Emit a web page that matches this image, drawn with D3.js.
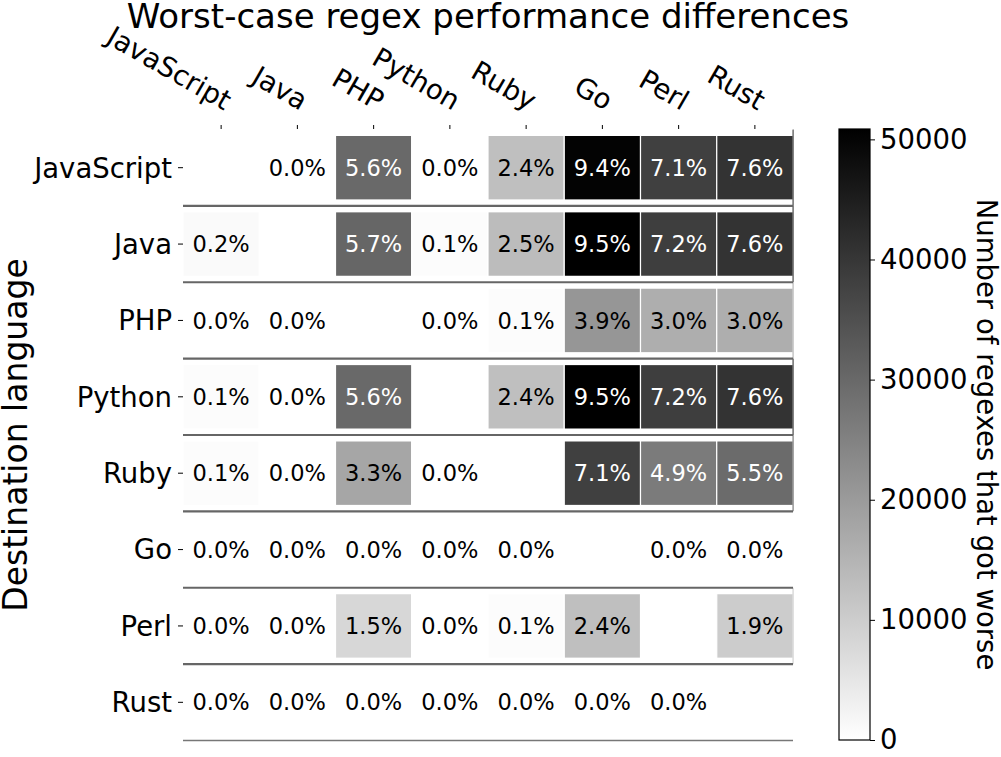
<!DOCTYPE html>
<meta charset="utf-8">
<style>
body {
  margin: 0;
  background: #fff;
}
svg text {
  font-family: "DejaVu Sans", sans-serif;
  fill: #000;
}
</style>
<body>
<svg width="1001" height="757"></svg>
<script src="https://cdn.jsdelivr.net/npm/d3@7"></script>
<script>

// source languages (columns) and destination languages (rows)
var sources = ["JavaScript","Java","PHP","Python","Ruby","Go","Perl","Rust"];
var dests   = ["JavaScript","Java","PHP","Python","Ruby","Go","Perl","Rust"];

// percent of regexes that got worse, one array per destination row (null = same language)
var pctJavaScript = [null, 0.0, 5.6, 0.0, 2.4, 9.4, 7.1, 7.6];
var pctJava       = [0.2, null, 5.7, 0.1, 2.5, 9.5, 7.2, 7.6];
var pctPHP        = [0.0, 0.0, null, 0.0, 0.1, 3.9, 3.0, 3.0];
var pctPython     = [0.1, 0.0, 5.6, null, 2.4, 9.5, 7.2, 7.6];
var pctRuby       = [0.1, 0.0, 3.3, 0.0, null, 7.1, 4.9, 5.5];
var pctGo         = [0.0, 0.0, 0.0, 0.0, 0.0, null, 0.0, 0.0];
var pctPerl       = [0.0, 0.0, 1.5, 0.0, 0.1, 2.4, null, 1.9];
var pctRust       = [0.0, 0.0, 0.0, 0.0, 0.0, 0.0, 0.0, null];

var totalRegexes = 535400;   // count corresponding to 100%
var colorbarTicks = [0, 10000, 20000, 30000, 40000, 50000];

var rows = [pctJavaScript, pctJava, pctPHP, pctPython, pctRuby, pctGo, pctPerl, pctRust];

var cells = [];
rows.forEach(function(r, i){
  r.forEach(function(p, j){
    cells.push({dest: dests[i], src: sources[j], pct: p,
                count: p == null ? null : p / 100 * totalRegexes});
  });
});
var maxCount = d3.max(cells, d => d.count);

var svg = d3.select("svg");

var x = d3.scaleBand().domain(sources).range([183, 793]);
var y = d3.scaleBand().domain(dests).range([129.5, 740.5]);
var color = d3.scaleLinear().domain([0, maxCount]).range(["#ffffff", "#000000"]);

// cells
var filled = cells.filter(d => d.pct != null);
svg.append("g").selectAll("rect")
  .data(filled).enter().append("rect")
  .attr("x", d => x(d.src))
  .attr("y", d => y(d.dest))
  .attr("width", x.bandwidth())
  .attr("height", y.bandwidth())
  .attr("fill", d => color(d.count))
  .attr("stroke", "#fff")
  .attr("stroke-width", 1.2);

// thin edge on the right of the last column
svg.append("g").selectAll("rect")
  .data(filled.filter(d => d.src === "Rust")).enter().append("rect")
  .attr("x", x.range()[1] - 0.6)
  .attr("y", d => y(d.dest))
  .attr("width", 1.2)
  .attr("height", y.bandwidth())
  .attr("fill", d => color(d.count));

// white separators between rows, with a grey line in the middle
var bounds = dests.map(d => y(d));
bounds.push(y.range()[1]);
svg.append("g").selectAll("rect")
  .data(bounds).enter().append("rect")
  .attr("x", x.range()[0])
  .attr("y", d => d - 6.5)
  .attr("width", x.range()[1] - x.range()[0] - 0.6)
  .attr("height", 13)
  .attr("fill", "#fff");

svg.append("g").selectAll("line")
  .data(bounds.slice(1)).enter().append("line")
  .attr("x1", x.range()[0])
  .attr("x2", x.range()[1])
  .attr("y1", d => d)
  .attr("y2", d => d)
  .attr("stroke", (d, i) => i === bounds.length - 2 ? "#777" : "#666")
  .attr("stroke-width", (d, i) => i === bounds.length - 2 ? 1.4 : 2.2);

// cell labels
svg.append("g").selectAll("text")
  .data(filled).enter().append("text")
  .attr("x", d => x(d.src) + x.bandwidth() / 2)
  .attr("y", d => y(d.dest) + y.bandwidth() / 2)
  .attr("dy", "0.36em")
  .attr("text-anchor", "middle")
  .style("font-size", "22.5px")
  .style("fill", d => d.count > maxCount / 2 ? "#fff" : "#000")
  .text(d => d.pct.toFixed(1) + "%");

// top axis (source language)
var gx = svg.append("g")
  .attr("transform", "translate(0," + (y.range()[0] - 0.5) + ")")
  .call(d3.axisTop(x).tickSize(4));
gx.select(".domain").remove();
gx.selectAll("line").attr("stroke", "#000").attr("stroke-width", 1);
gx.selectAll("text")
  .attr("x", 0).attr("y", 0).attr("dy", null)
  .attr("text-anchor", "end")
  .attr("transform", "translate(3,-18) rotate(30)")
  .style("font-size", "27.5px")
  .attr("font-family", null)
  .attr("fill", "#000");

// left axis (destination language)
var gy = svg.append("g")
  .attr("transform", "translate(" + x.range()[0] + ",0)")
  .call(d3.axisLeft(y).tickSize(5).tickPadding(6));
gy.select(".domain").remove();
gy.selectAll("line").attr("stroke", "#000").attr("stroke-width", 1);
gy.selectAll("text")
  .attr("dy", "0.36em")
  .style("font-size", "27.5px")
  .attr("font-family", null)
  .attr("fill", "#000");

svg.append("text")
  .attr("transform", "translate(27," + ((y.range()[0] + y.range()[1]) / 2) + ") rotate(-90)")
  .attr("text-anchor", "middle")
  .style("font-size", "33px")
  .text("Destination language");

svg.append("text")
  .attr("x", (x.range()[0] + x.range()[1]) / 2)
  .attr("y", 28)
  .attr("text-anchor", "middle")
  .style("font-size", "34px")
  .text("Worst-case regex performance differences");

// colorbar
var cb = {x: 839, w: 31, top: 129, bottom: 740};
var cy = d3.scaleLinear().domain([0, maxCount]).range([cb.bottom, cb.top]);

var grad = svg.append("defs").append("linearGradient")
  .attr("id", "cbgrad")
  .attr("x1", 0).attr("y1", 1).attr("x2", 0).attr("y2", 0);
grad.append("stop").attr("offset", 0).attr("stop-color", color(0));
grad.append("stop").attr("offset", 1).attr("stop-color", color(maxCount));

svg.append("rect")
  .attr("x", cb.x).attr("y", cb.top)
  .attr("width", cb.w).attr("height", cb.bottom - cb.top)
  .attr("fill", "url(#cbgrad)")
  .attr("stroke", "#000")
  .attr("stroke-width", 1.2);

var gc = svg.append("g")
  .attr("transform", "translate(" + (cb.x + cb.w) + ",0)")
  .call(d3.axisRight(cy).tickValues(colorbarTicks).tickFormat(d3.format("d")).tickSize(5).tickPadding(5));
gc.select(".domain").remove();
gc.selectAll("line").attr("stroke", "#000").attr("stroke-width", 1);
gc.selectAll("text")
  .style("font-size", "27.5px")
  .attr("font-family", null)
  .attr("fill", "#000");

svg.append("text")
  .attr("transform", "translate(977," + ((cb.top + cb.bottom) / 2) + ") rotate(90)")
  .attr("text-anchor", "middle")
  .style("font-size", "27.5px")
  .text("Number of regexes that got worse");

</script>
</body>
